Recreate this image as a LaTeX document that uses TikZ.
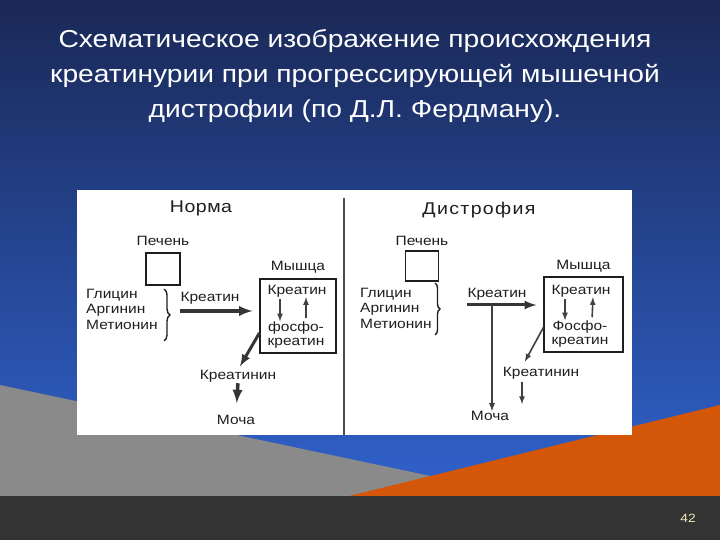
\documentclass[tikz,border=0pt]{standalone}
\usepackage{fontspec}
\setmainfont{Liberation Sans}[FakeStretch=1.15]
\usetikzlibrary{positioning,decorations.pathreplacing}

\definecolor{navy}{RGB}{26,40,86}
\definecolor{sky}{RGB}{48,98,204}
\definecolor{slate}{RGB}{138,138,138}
\definecolor{rust}{RGB}{212,86,8}
\definecolor{coal}{RGB}{51,51,51}
\definecolor{ink}{RGB}{30,30,30}
\definecolor{pale}{RGB}{240,232,180}

\tikzset{
	lbl/.style={font=\fontsize{13.5}{14.5}\selectfont, text=ink, inner sep=0pt},
	head/.style={font=\fontsize{17}{17}\selectfont\addfontfeature{LetterSpace=#1}, text=ink},
	organ/.style={draw=ink, line width=1.2pt},
	fatarrow/.style={-latex, line width=3.5pt, draw=ink!90},
	slimarrow/.style={-latex, line width=1.6pt, draw=ink!85},
	curly/.style={draw=ink, line width=1.4pt, decorate},
}

\begin{document}
\begin{tikzpicture}[x=1pt,y=1pt]
		\useasboundingbox (0,0) rectangle (720,540);
		
		% slide background
		\shade[top color=navy, bottom color=sky] (0,44) rectangle (720,540);
		\fill[slate] (0,155) -- (440,62) -- (350,43) -- (0,43) -- cycle;
		\fill[rust] (345,43) -- (720,135) -- (720,43) -- cycle;
		\fill[coal] (0,0) rectangle (720,44);
		\node (pg) at (688,22) [text=pale, font=\fontsize{12}{12}\selectfont] {42};
		
		\node (title) at (355,464) [align=center, text=white, font=\fontsize{24.5}{35}\selectfont] {Схематическое изображение происхождения\\креатинурии при прогрессирующей мышечной\\дистрофии (по Д.Л. Фердману).};
		
		\fill[white] (77,105) rectangle (632,350);
		\draw[ink!80, line width=1.2pt] (344,342) -- (344,105);
		
		% norm
		\node (norm) at (201,332) [head=3] {Норма};
		\node (liv1) at (163,299) [lbl] {Печень};
		\node (sq1) [below of=liv1, node distance=28pt, organ, minimum width=34pt, minimum height=32pt] {};
		
		% dystrophy
		\node (dys) at (479,330) [head=8] {Дистрофия};
		\node (liv2) at (422,299) [lbl] {Печень};
		\node (sq2) [below of=liv2, node distance=25pt, organ, minimum width=33pt, minimum height=30pt] {};
		
		\foreach \t [count=\n] in {Глицин, Аргинин, Метионин} {
			\node (a\n) at (86,260-15*\n) [lbl, anchor=west] {\t};
			\node (b\n) at (360,261-15*\n) [lbl, anchor=west] {\t};
		}
		\draw[curly, decoration={brace, amplitude=6pt}] (164,251) -- (164,199);
		\draw[curly, decoration={brace, amplitude=5pt}] (435,257) -- (435,205);
		
		\node (mbox1) at (298,224) [organ, minimum width=76pt, minimum height=74pt] {};
		\node (mus1) [above of=mbox1, node distance=49pt, lbl] {Мышца};
		\node (k1) at (297,249) [lbl] {Креатин};
		\node (f1) at (296,205) [lbl, align=center] {фосфо-\\креатин};
		\node (kr1) at (210,242) [lbl] {Креатин};
		\node (kn1) at (238,164) [lbl] {Креатинин};
		\node (m1) at (236,120) [lbl] {Моча};
		
		\node (mbox2) at (583.5,225.5) [organ, minimum width=79pt, minimum height=75pt] {};
		\node (mus2) [above of=mbox2, node distance=48.5pt, lbl] {Мышца};
		\node (k2) at (581,249) [lbl] {Креатин};
		\node (f2) at (580,206) [lbl, align=center] {Фосфо-\\креатин};
		\node (kr2) at (497,246) [lbl] {Креатин};
		\node (kn2) at (541,167) [lbl] {Креатинин};
		\node (m2) at (490,124) [lbl] {Моча};
		
		\coordinate (bt1) at (171,229);
		\coordinate (s2) at (467,235);
		\coordinate (j2) at (492,235);
		\coordinate (e2) at (522,136);
		
		\draw[fatarrow, shorten <=9pt, shorten >=7pt] (bt1) -- (bt1 -| mbox1.west);
		\draw[slimarrow, shorten <=2pt] ([xshift=-17pt]k1.south) -- ([xshift=-16pt]f1.north);
		\draw[slimarrow, shorten <=3pt] ([xshift=10pt]f1.north) -- ([xshift=9pt]k1.south);
		\draw[fatarrow, line width=3pt, shorten >=4pt] ([yshift=-17pt]mbox1.west) -- (kn1.north);
		\draw[fatarrow, shorten <=1pt, shorten >=12pt] (kn1.south) -- (m1.north);
		
		\draw[fatarrow, line width=3pt, shorten >=7pt] (s2) -- (s2 -| mbox2.west);
		\draw[slimarrow, line width=1.8pt] (j2) -- (j2 |- m2.north);
		\draw[slimarrow, shorten <=2pt] ([xshift=-16pt]k2.south) -- ([xshift=-15pt]f2.north);
		\draw[slimarrow, shorten <=3pt] ([xshift=12pt]f2.north) -- ([xshift=12pt]k2.south);
		\draw[slimarrow, shorten >=6pt] ([yshift=-13pt]mbox2.west) -- ([xshift=-19pt]kn2.north);
		\draw[slimarrow, shorten <=3pt] ([xshift=-19pt]kn2.south) -- (e2);
		
	\end{tikzpicture}
\end{document}
